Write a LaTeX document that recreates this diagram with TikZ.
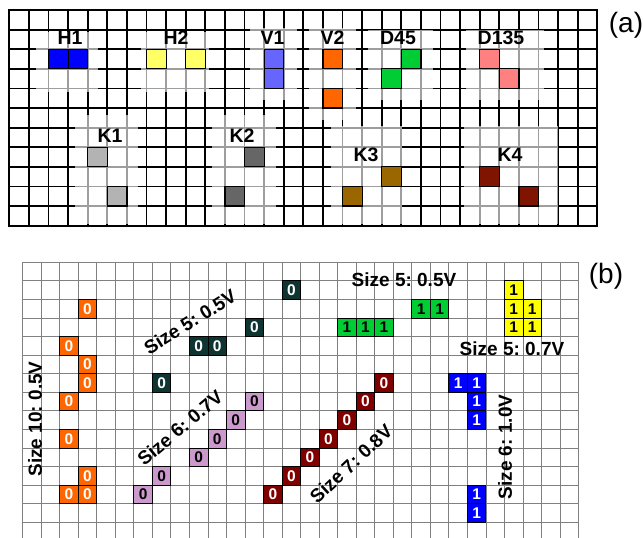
\documentclass[tikz,border=0pt]{standalone}
\usepackage{fontspec}
\setmainfont{Liberation Sans}
\usetikzlibrary{positioning}
\frenchspacing
% (a) pattern colours
\definecolor{hone}{HTML}{0000FF}
\definecolor{htwo}{HTML}{FFFF66}
\definecolor{vone}{HTML}{6666FF}
\definecolor{vtwo}{HTML}{FF6600}
\definecolor{dfortyfive}{HTML}{00CC33}
\definecolor{donethirtyfive}{HTML}{FF8080}
\definecolor{kone}{HTML}{B3B3B3}
\definecolor{ktwo}{HTML}{666666}
\definecolor{kthree}{HTML}{996600}
\definecolor{kfour}{HTML}{7F1500}
% (b) cell colours
\definecolor{borange}{HTML}{FF6600}
\definecolor{bteal}{HTML}{0F3532}
\definecolor{bpurple}{HTML}{CC99CC}
\definecolor{bdarkred}{HTML}{800000}
\definecolor{bgreen}{HTML}{00CC33}
\definecolor{byellow}{HTML}{FFFF00}
\definecolor{bblue}{HTML}{0000FF}
\tikzset{
  gridA/.style={black, line width=1.8pt, line cap=rect},
  gridB/.style={black!50, line width=0.9pt},
  nbhd/.style={fill=white, fill opacity=0.62, draw=none},
  cellA/.style={draw=black, line width=1.2pt, minimum width=19.6pt,
                minimum height=19.6pt, inner sep=0pt},
  cellB/.style={draw=black, line width=1pt, minimum width=18.53pt,
                minimum height=18.57pt, inner sep=0pt,
                font=\fontsize{15.5}{16}\selectfont\bfseries},
  patname/.style={font=\fontsize{19.5}{20}\selectfont\bfseries, inner sep=0pt},
  sizelbl/.style={font=\fontsize{19}{20}\selectfont\bfseries, inner sep=0pt},
  panel/.style={font=\fontsize{28}{30}\selectfont, inner sep=0pt}
}
% grid origins and cell sizes
\def\aX{9.3}
\def\aY{10}
\def\aS{19.6}
\def\bX{22.7}
\def\bY{262.3}
\def\bSx{18.53}
\def\bSy{18.57}

\begin{document}
\begin{tikzpicture}[x=1pt, y=-1pt]
  \useasboundingbox (0,0) rectangle (643,538);

  % --- (a): black grid, 30 x 11 ---
  \foreach \i in {0,...,30}
    \draw[gridA] ({\aX+\i*\aS},\aY) -- ({\aX+\i*\aS},{\aY+11*\aS});
  \foreach \j in {0,...,11}
    \draw[gridA] (\aX,{\aY+\j*\aS}) -- ({\aX+30*\aS},{\aY+\j*\aS});

  % --- (a): light neighbourhoods round each pattern ---
  \foreach \p/\q/\s/\t in {1.35/1.1/4.5/4.2, 6.7/1.1/10.2/4.2,
      12.3/0.9/14.7/4.6, 15.3/0.9/17.7/5.6, 18.3/1.0/21.6/4.6,
      23.3/1.0/27.3/4.6, 3.35/5.35/6.55/10.9, 10.35/5.35/13.6/10.9,
      16.4/5.9/20.05/10.9, 23.2/5.9/28.0/10.9}
    \fill[nbhd] ({\aX+\p*\aS},{\aY+\q*\aS}) rectangle ({\aX+\s*\aS},{\aY+\t*\aS});

  % --- (a): patterns ---
  \foreach \c/\r/\col in {2/2/hone, 3/2/hone, 7/2/htwo, 9/2/htwo,
      13/2/vone, 13/3/vone, 16/2/vtwo, 16/4/vtwo,
      20/2/dfortyfive, 19/3/dfortyfive, 24/2/donethirtyfive, 25/3/donethirtyfive,
      4/7/kone, 5/9/kone, 12/7/ktwo, 11/9/ktwo,
      19/8/kthree, 17/9/kthree, 24/8/kfour, 26/9/kfour}
    \node[cellA, fill=\col] (a-\c-\r) at ({\aX+(\c+0.5)*\aS},{\aY+(\r+0.5)*\aS}) {};

  \node[patname] (name-h1)   at (70,37.5)    {H1};
  \node[patname] (name-h2)   at (176,37.5)   {H2};
  \node[patname] (name-v1)   at (272.5,37.5) {V1};
  \node[patname] (name-v2)   at (332.5,37.5) {V2};
  \node[patname] (name-d45)  at (398,37.5)   {D45};
  \node[patname] (name-d135) at (501,37.5)   {D135};
  \node[patname] (name-k1)   at (110,136)    {K1};
  \node[patname] (name-k2)   at (242,136)    {K2};
  \node[patname] (name-k3)   at (366,155)    {K3};
  \node[patname] (name-k4)   at (510,155)    {K4};

  \node[panel] (panel-a) at (626,25) {(a)};

  % --- (b): grey grid, 30 x 15 ---
  \foreach \i in {0,...,30}
    \draw[gridB] ({\bX+\i*\bSx},\bY) -- ({\bX+\i*\bSx},{\bY+15*\bSy});
  \foreach \j in {0,...,15}
    \draw[gridB] (\bX,{\bY+\j*\bSy}) -- ({\bX+30*\bSx},{\bY+\j*\bSy});

  % --- (b): cells ---
  \foreach \c/\r [count=\i] in {3/2, 2/4, 3/5, 3/6, 2/7, 2/9, 3/11, 2/12, 3/12}
    \node[cellB, fill=borange, text=white] (or-\i) at ({\bX+(\c+0.5)*\bSx},{\bY+(\r+0.5)*\bSy}) {0};
  \foreach \c/\r [count=\i] in {14/1, 12/3, 9/4, 10/4, 7/6}
    \node[cellB, fill=bteal, text=white] (te-\i) at ({\bX+(\c+0.5)*\bSx},{\bY+(\r+0.5)*\bSy}) {0};
  \foreach \c/\r [count=\i] in {6/12, 7/11, 9/10, 10/9, 11/8, 12/7}
    \node[cellB, fill=bpurple, text=black] (pu-\i) at ({\bX+(\c+0.5)*\bSx},{\bY+(\r+0.5)*\bSy}) {0};
  \foreach \c/\r [count=\i] in {13/12, 14/11, 15/10, 16/9, 17/8, 18/7, 19/6}
    \node[cellB, fill=bdarkred, text=white] (dr-\i) at ({\bX+(\c+0.5)*\bSx},{\bY+(\r+0.5)*\bSy}) {0};
  \foreach \c/\r [count=\i] in {17/3, 18/3, 19/3, 21/2, 22/2}
    \node[cellB, fill=bgreen, text=black] (gr-\i) at ({\bX+(\c+0.5)*\bSx},{\bY+(\r+0.5)*\bSy}) {1};
  \foreach \c/\r [count=\i] in {26/1, 26/2, 27/2, 26/3, 27/3}
    \node[cellB, fill=byellow, text=black] (ye-\i) at ({\bX+(\c+0.5)*\bSx},{\bY+(\r+0.5)*\bSy}) {1};
  \foreach \c/\r [count=\i] in {23/6, 24/6, 24/7, 24/8, 24/12, 24/13}
    \node[cellB, fill=bblue, text=white] (bl-\i) at ({\bX+(\c+0.5)*\bSx},{\bY+(\r+0.5)*\bSy}) {1};

  % --- (b): size labels ---
  \node[sizelbl, rotate=90] (size-or) at (35,419)  {Size 10: 0.5V};
  \node[sizelbl, rotate=32] (size-te) at (190,322) {Size 5: 0.5V};
  \node[sizelbl, rotate=40] (size-pu) at (180,428) {Size 6: 0.7V};
  \node[sizelbl, rotate=43] (size-dr) at (351,464) {Size 7: 0.8V};
  \node[sizelbl]            (size-gr) at (404,280) {Size 5: 0.5V};
  \node[sizelbl]            (size-ye) at (512,349) {Size 5: 0.7V};
  \node[sizelbl, rotate=90] (size-bl) at (505,447) {Size 6: 1.0V};

  \node[panel] (panel-b) at (606,276) {(b)};

\end{tikzpicture}
\end{document}
